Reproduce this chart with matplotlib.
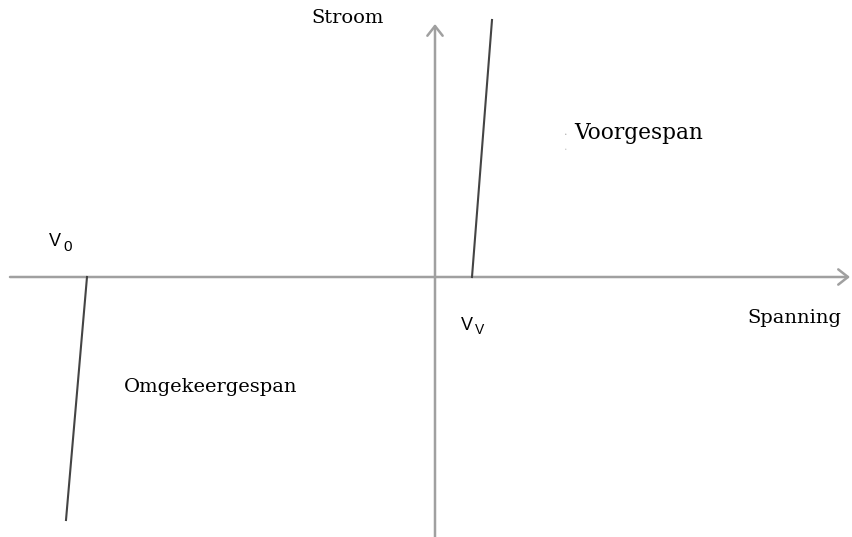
import matplotlib.pyplot as plt
from matplotlib.patches import FancyArrowPatch

# voltage / current in arbitrary units, origin where the axes cross
forward_v = [37, 57]
forward_i = [0, 257]
reverse_v = [-348, -369]
reverse_i = [0, -243]

x_label = "Spanning"
y_label = "Stroom"
forward_label = "Voorgespan"
reverse_label = "Omgekeergespan"

fig = plt.figure(figsize=(8.52, 5.37), dpi=100)
ax = fig.add_axes([0, 0, 1, 1])
ax.set_xlim(-435, 417)
ax.set_ylim(-260, 277)
ax.axis('off')

axis_col = '#a0a0a0'
arrow = '->,head_length=7,head_width=5.5'
# axes with arrow heads
ax.add_patch(FancyArrowPatch((-425, 0), (415, 0), arrowstyle=arrow,
                             color=axis_col, lw=1.8, mutation_scale=1, shrinkA=0, shrinkB=0))
ax.add_patch(FancyArrowPatch((0, -262), (0, 253), arrowstyle=arrow,
                             color=axis_col, lw=1.8, mutation_scale=1, shrinkA=0, shrinkB=0))

# diode characteristics
ax.plot(forward_v, forward_i, color='#444444', lw=1.5)
ax.plot(reverse_v, reverse_i, color='#444444', lw=1.5)

font = 'DejaVu Serif'
fs = 14
ax.text(-124, 259, y_label, family=font, fontsize=fs, ha='left', va='center')
ax.text(139, 144, forward_label, family=font, fontsize=15.6, ha='left', va='center')
ax.text(312, -41, x_label, family=font, fontsize=fs, ha='left', va='center')
ax.text(-311, -110, reverse_label, family=font, fontsize=fs, ha='left', va='center')
# faint specks left of the label
ax.text(131, 145, '.', family=font, fontsize=8, color='#b0b0b0', ha='center', va='center')
ax.text(131, 130, '.', family=font, fontsize=8, color='#c8c8c8', ha='center', va='center')

sub = 'Liberation Sans'
ax.text(-386, 35, 'V', family=sub, fontsize=13, ha='left', va='center')
ax.text(-372, 30, '0', family=sub, fontsize=11, ha='left', va='center')
ax.text(26, -48, 'V', family=sub, fontsize=13, ha='left', va='center')
ax.text(40, -53, 'V', family=sub, fontsize=10, ha='left', va='center')

fig.savefig('out.png', dpi=100)
